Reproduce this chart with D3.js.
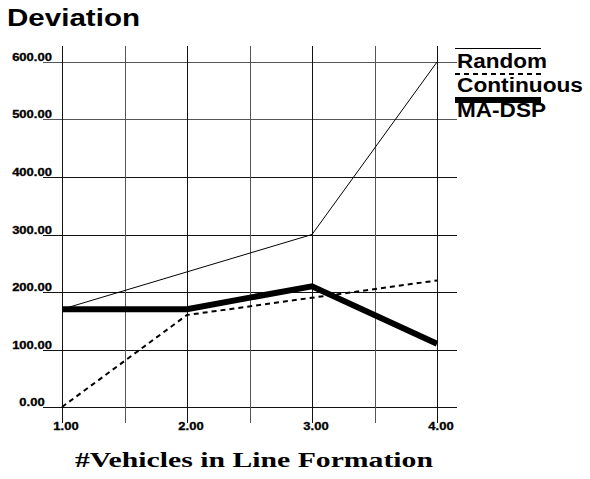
<!DOCTYPE html>
<html>
<head>
<meta charset="utf-8">
<script src="https://cdn.jsdelivr.net/npm/d3@7"></script>
<style>
  body { margin: 0; background: #fff; }
</style>
</head>
<body>
<div id="chart"></div>
<script>
// data
const vehicles = [1, 2, 3, 4];
const random = [170, 235, 300, 600];
const continuous = [0, 160, 190, 220];
const maDsp = [170, 170, 210, 110];
const yTicks = [0, 100, 200, 300, 400, 500, 600];
const xGrid = [1, 1.5, 2, 2.5, 3, 3.5, 4];
const xTicks = [1, 2, 3, 4];
const seriesNames = ["Random", "Continuous", "MA-DSP"];

const width = 590, height = 479;

const svg = d3.select("#chart").append("svg")
    .attr("width", width)
    .attr("height", height);

const x = d3.scaleLinear().domain([1, 4]).range([62, 437]);
const y = d3.scaleLinear().domain([0, 600]).range([407, 62]);

// title
svg.append("text")
    .attr("x", 7).attr("y", 26)
    .attr("font-family", "Liberation Sans, Arial, sans-serif")
    .attr("font-weight", "bold")
    .attr("font-size", 24)
    .attr("textLength", 133)
    .attr("lengthAdjust", "spacingAndGlyphs")
    .text("Deviation");

// grid: horizontal lines
svg.append("g")
    .selectAll("line")
    .data(yTicks)
    .enter().append("line")
    .attr("x1", 43).attr("x2", 457)
    .attr("y1", d => Math.round(y(d)) + 0.5)
    .attr("y2", d => Math.round(y(d)) + 0.5)
    .style("stroke", d => d >= 500 ? "#555" : "#111")
    .style("stroke-width", 1);

// grid: vertical lines
svg.append("g")
    .selectAll("line")
    .data(xGrid)
    .enter().append("line")
    .attr("y1", 46).attr("y2", 423)
    .attr("x1", d => Math.round(x(d)) + 0.5)
    .attr("x2", d => Math.round(x(d)) + 0.5)
    .style("stroke", d => Number.isInteger(d) ? "#111" : "#555")
    .style("stroke-width", 1);

// y tick labels
svg.append("g")
    .selectAll("text")
    .data(yTicks)
    .enter().append("text")
    .attr("transform", d => `translate(32,${Math.round(y(d)) - 1}) scale(1.3,1)`)
    .attr("text-anchor", "middle")
    .attr("font-family", "Liberation Sans, Arial, sans-serif")
    .attr("font-weight", "bold")
    .attr("font-size", 10)
    .style("stroke", "#000")
    .style("stroke-width", 0.3)
    .text(d => d3.format(".2f")(d));

// x tick labels
svg.append("g")
    .selectAll("text")
    .data(xTicks)
    .enter().append("text")
    .attr("transform", d => `translate(${x(d) + 4},430) scale(1.3,1)`)
    .attr("text-anchor", "middle")
    .attr("font-family", "Liberation Sans, Arial, sans-serif")
    .attr("font-weight", "bold")
    .attr("font-size", 10)
    .style("stroke", "#000")
    .style("stroke-width", 0.3)
    .text(d => d3.format(".2f")(d));

// x axis title
svg.append("text")
    .attr("x", 75).attr("y", 467)
    .attr("font-family", "Liberation Serif, Times New Roman, serif")
    .attr("font-weight", "bold")
    .attr("font-size", 22)
    .attr("textLength", 358)
    .attr("lengthAdjust", "spacingAndGlyphs")
    .text("#Vehicles in Line Formation");

// series lines
const line = d3.line()
    .x((d, i) => x(vehicles[i]))
    .y(d => y(d));

const styles = [
    { width: 1, dash: null },
    { width: 2, dash: "5,4" },
    { width: 6, dash: null }
];

[random, continuous, maDsp].forEach((values, i) => {
    svg.append("path")
        .datum(values)
        .attr("d", line)
        .attr("fill", "none")
        .style("stroke", "#000")
        .style("stroke-width", styles[i].width)
        .style("stroke-dasharray", styles[i].dash)
        .style("stroke-linejoin", "miter");
});

// legend
const legendLineY = [48.5, 74, 100];
const legendTextY = [68, 92, 117];
const legendTextW = [90, 126, 89];

const legend = svg.append("g");
seriesNames.forEach((name, i) => {
    legend.append("line")
        .attr("x1", 455).attr("x2", 541)
        .attr("y1", legendLineY[i]).attr("y2", legendLineY[i])
        .style("stroke", "#000")
        .style("stroke-width", styles[i].width)
        .style("stroke-dasharray", styles[i].dash);
    legend.append("text")
        .attr("x", 457).attr("y", legendTextY[i])
        .attr("font-family", "Liberation Sans, Arial, sans-serif")
        .attr("font-weight", "bold")
        .attr("font-size", 20)
        .attr("textLength", legendTextW[i])
        .attr("lengthAdjust", "spacingAndGlyphs")
        .text(name);
});
</script>
</body>
</html>
